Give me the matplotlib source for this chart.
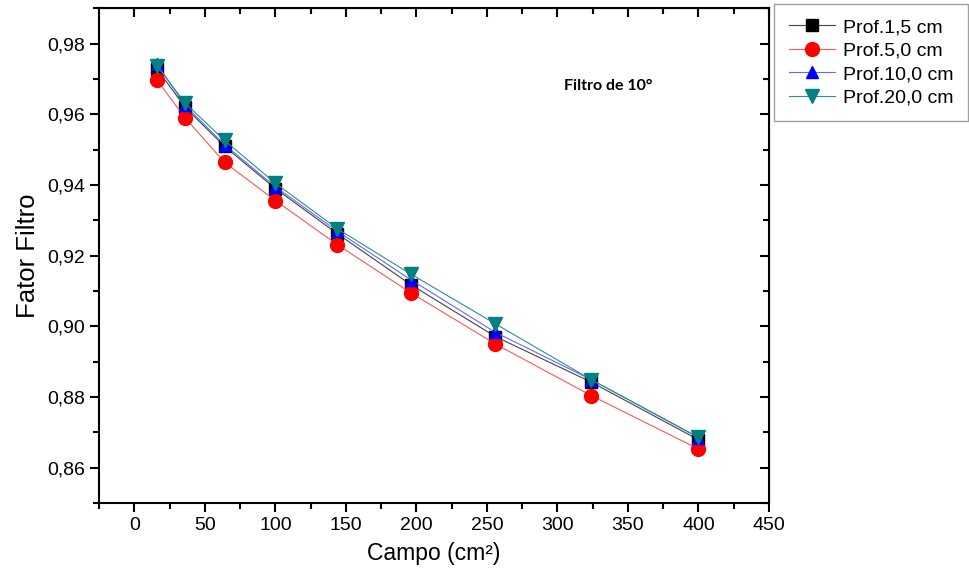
import matplotlib.pyplot as plt
from matplotlib.ticker import MultipleLocator, FuncFormatter

# field size (cm²) and filter factor for each depth
campo = [16, 36, 64, 100, 144, 196, 256, 324, 400]
prof_1_5 = [0.9729, 0.9620, 0.9509, 0.9390, 0.9262, 0.9118, 0.8971, 0.8842, 0.8679]
prof_5_0 = [0.9697, 0.9590, 0.9464, 0.9356, 0.9231, 0.9095, 0.8950, 0.8804, 0.8653]
prof_10_0 = [0.9743, 0.9625, 0.9514, 0.9395, 0.9269, 0.9132, 0.8983, 0.8849, 0.8685]
prof_20_0 = [0.9738, 0.9632, 0.9526, 0.9405, 0.9276, 0.9148, 0.9007, 0.8849, 0.8686]

labels = ['Prof.1,5 cm', 'Prof.5,0 cm', 'Prof.10,0 cm', 'Prof.20,0 cm']

plt.rcParams['font.family'] = ['Liberation Sans', 'DejaVu Sans']

fig = plt.figure(figsize=(9.69, 5.83), dpi=100)
ax = fig.add_axes([0.1022, 0.1372, 0.6914, 0.8486])

ax.plot(campo, prof_1_5, color='#444444', lw=0.8, marker='s', ms=8,
        mfc='black', mec='black', label=labels[0])
ax.plot(campo, prof_5_0, color='#ff5555', lw=0.8, marker='o', ms=10,
        mfc='red', mec='red', label=labels[1])
ax.plot(campo, prof_10_0, color='#6666ff', lw=0.8, marker='^', ms=9,
        mfc='blue', mec='blue', label=labels[2])
ax.plot(campo, prof_20_0, color='#2a9090', lw=0.8, marker='v', ms=10,
        mfc='#008080', mec='#008080', label=labels[3])

ax.set_xlim(-25, 450)
ax.set_ylim(0.85, 0.99)
ax.xaxis.set_major_locator(MultipleLocator(50))
ax.xaxis.set_minor_locator(MultipleLocator(25))
ax.yaxis.set_major_locator(MultipleLocator(0.02))
ax.yaxis.set_minor_locator(MultipleLocator(0.01))
ax.yaxis.set_major_formatter(FuncFormatter(lambda v, p: f'{v:.2f}'.replace('.', ',')))

for s in ax.spines.values():
    s.set_linewidth(1.5)
ax.tick_params(which='major', direction='out', length=6.5, width=1.5, labelsize=14)
ax.tick_params(which='minor', direction='out', length=4, width=1.5)

# inward ticks on the top and right edges
top = ax.secondary_xaxis('top')
top.xaxis.set_major_locator(MultipleLocator(50))
top.xaxis.set_minor_locator(MultipleLocator(25))
top.tick_params(which='major', direction='in', length=6.5, width=1.5, labeltop=False)
top.tick_params(which='minor', direction='in', length=4, width=1.5)
right = ax.secondary_yaxis('right')
right.yaxis.set_major_locator(MultipleLocator(0.02))
right.yaxis.set_minor_locator(MultipleLocator(0.01))
right.tick_params(which='major', direction='in', length=6.5, width=1.5, labelright=False)
right.tick_params(which='minor', direction='in', length=4, width=1.5)

ax.set_xlabel('Campo (cm²)', fontsize=16.5, labelpad=6)
ax.set_ylabel('Fator Filtro', fontsize=18.5, labelpad=5)

ax.text(336, 0.9681, 'Filtro de 10°', fontsize=11.5, fontweight='bold',
        family=['Lato', 'DejaVu Sans'], ha='center', va='center')

leg = fig.legend(loc='upper left', bbox_to_anchor=(0.7988, 0.993), fontsize=14,
                 frameon=True, fancybox=False, edgecolor='#888888',
                 handlelength=2.4, borderpad=0.75, labelspacing=0.3,
                 handletextpad=0.4, borderaxespad=0)
leg.get_frame().set_linewidth(1.0)

fig.savefig('out.png', dpi=100)
